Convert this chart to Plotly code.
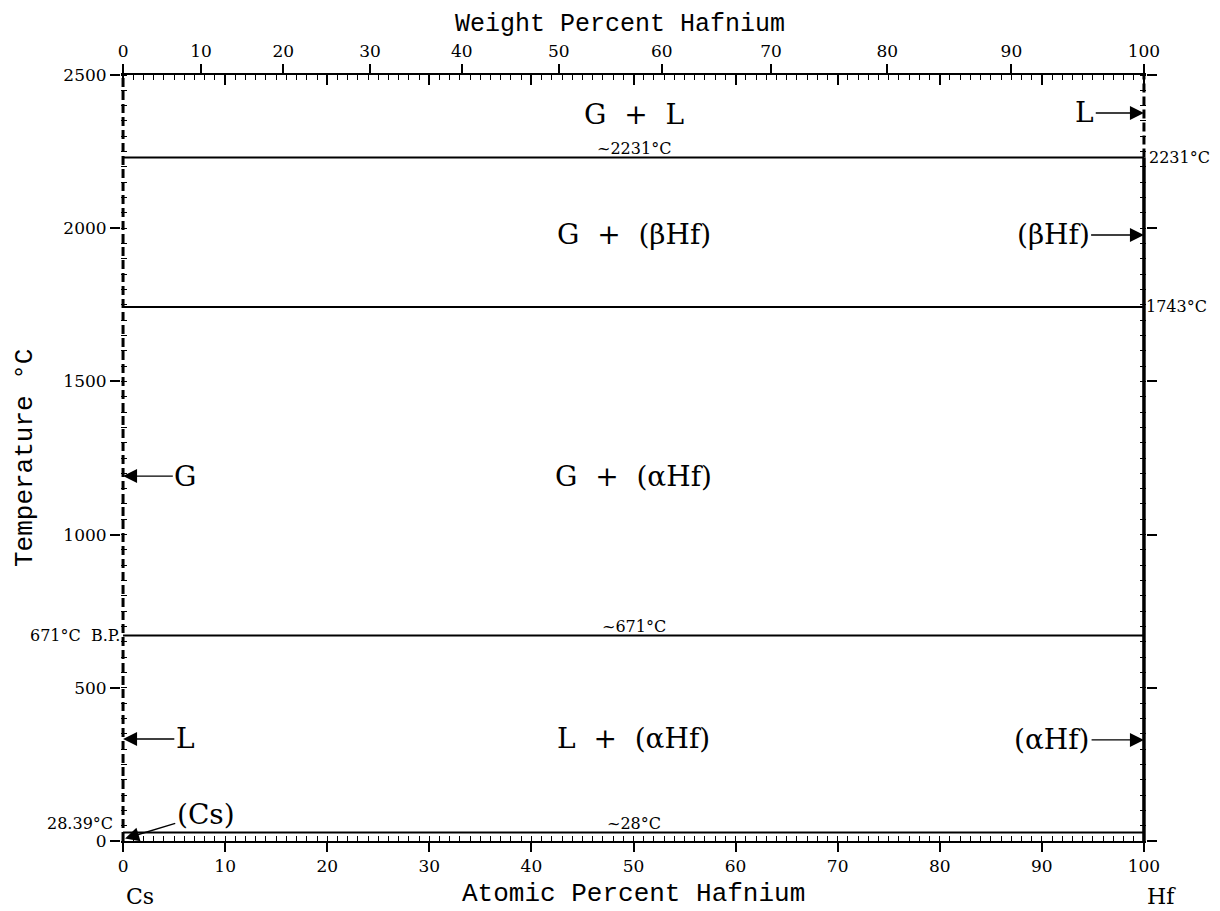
import plotly.graph_objects as go

# ---- data ----
M_HF = 178.49
M_CS = 132.905
wt_ticks = [0, 10, 20, 30, 40, 50, 60, 70, 80, 90, 100]
iso_temps = [2231, 1743, 671, 28]
iso_labels = ["~2231°C", "", "~671°C", "~28°C"]
region_text = ["G\u00a0 +\u00a0 L", "G\u00a0 +\u00a0 (βHf)", "G\u00a0 +\u00a0 (αHf)", "L\u00a0 +\u00a0 (αHf)"]
region_x = [50, 50, 50, 50]
region_T = [2372, 1981, 1191, 333]
# arrows: label, text x, text T, tip x, tip T
arrow_text = ["L", "(βHf)", "(αHf)", "G", "L", "(Cs)"]
arrow_tx = [94.2, 91.1, 91.0, 6.1, 6.1, 8.1]
arrow_tT = [2376, 1978, 330, 1191, 333, 88]
arrow_px = [100, 100, 100, 0, 0, 0.2]
arrow_pT = [2376, 1978, 330, 1191, 333, 8]


def wt_to_at(w):
    if w <= 0:
        return 0.0
    if w >= 100:
        return 100.0
    a = w / M_HF
    b = (100 - w) / M_CS
    return 100 * a / (a + b)


wt_pos = [wt_to_at(w) for w in wt_ticks]

SERIF = "DejaVu Serif"
MONO = "Liberation Mono"
TICKF = dict(family=SERIF, size=17, color="black")
SMALL = 16

fig = go.Figure()

# horizontal invariant lines
for T in iso_temps:
    fig.add_trace(go.Scatter(x=[0, 100], y=[T, T], mode="lines",
                             line=dict(color="black", width=2), showlegend=False, hoverinfo="skip"))

# left boundary (dashed) at pure Cs
fig.add_trace(go.Scatter(x=[0, 0], y=[0, 2500], mode="lines",
                         line=dict(color="black", width=3, dash="9px,4px"), showlegend=False, hoverinfo="skip"))
# right boundary: dashed above melting point, solid below
fig.add_trace(go.Scatter(x=[100, 100], y=[iso_temps[0], 2500], mode="lines",
                         line=dict(color="black", width=3, dash="9px,4px"), showlegend=False, hoverinfo="skip"))
fig.add_trace(go.Scatter(x=[100, 100], y=[0, iso_temps[0]], mode="lines",
                         line=dict(color="black", width=3.5), showlegend=False, hoverinfo="skip"))

# invisible traces to activate extra axes
fig.add_trace(go.Scatter(x=[0], y=[0], xaxis="x2", yaxis="y", mode="markers",
                         marker=dict(opacity=0), showlegend=False, hoverinfo="skip"))
fig.add_trace(go.Scatter(x=[0], y=[0], xaxis="x3", yaxis="y", mode="markers",
                         marker=dict(opacity=0), showlegend=False, hoverinfo="skip"))
fig.add_trace(go.Scatter(x=[0], y=[0], xaxis="x", yaxis="y2", mode="markers",
                         marker=dict(opacity=0), showlegend=False, hoverinfo="skip"))

XR = [-0.2, 100.2]
YR = [0, 2500]

# page body has an 8px margin, so the figure is 8px smaller than the window
fig.update_layout(
    width=1212, height=903,
    margin=dict(l=113, r=74, t=67, b=70),
    paper_bgcolor="white", plot_bgcolor="white",
    showlegend=False,
    xaxis=dict(range=XR, showgrid=False, zeroline=False, showline=True, linecolor="black", linewidth=2,
               tickmode="array", tickvals=list(range(0, 101, 10)), ticks="outside", ticklen=9,
               tickwidth=1.5, tickcolor="black", tickfont=TICKF,
               minor=dict(ticks="inside", dtick=1, tick0=0, ticklen=5, tickwidth=1, tickcolor="black")),
    xaxis2=dict(range=XR, overlaying="x", side="top", showgrid=False, zeroline=False, showline=True,
                linecolor="black", linewidth=2, tickmode="array", tickvals=wt_pos,
                ticktext=[str(w) for w in wt_ticks], ticks="outside", ticklen=9, tickwidth=1.5,
                tickcolor="black", tickfont=TICKF),
    xaxis3=dict(range=XR, overlaying="x", side="top", showgrid=False, zeroline=False, showline=False,
                tickmode="linear", tick0=0, dtick=10, ticks="inside", ticklen=10, tickwidth=1.5,
                tickcolor="black", showticklabels=False,
                minor=dict(ticks="inside", dtick=1, tick0=0, ticklen=5, tickwidth=1, tickcolor="black")),
    yaxis=dict(range=YR, showgrid=False, zeroline=False, showline=False,
               tickmode="linear", tick0=0, dtick=500, ticks="outside", ticklen=10, tickwidth=1.5,
               tickcolor="black", tickfont=TICKF,
               minor=dict(ticks="inside", dtick=50, tick0=0, ticklen=6, tickwidth=1, tickcolor="black")),
    yaxis2=dict(range=YR, overlaying="y", side="right", showgrid=False, zeroline=False, showline=False,
                tickmode="linear", tick0=0, dtick=500, ticks="outside", ticklen=10, tickwidth=1.5,
                tickcolor="black", showticklabels=False,
                minor=dict(ticks="inside", dtick=50, tick0=0, ticklen=6, tickwidth=1, tickcolor="black")),
)

ann = []
# isotherm labels
for T, lab in zip(iso_temps, iso_labels):
    if lab:
        ann.append(dict(x=50, y=T, xref="x", yref="y", text=lab, showarrow=False, yanchor="bottom",
                        yshift=-3, font=dict(family=SERIF, size=SMALL, color="black")))
# right side temperature labels
ann.append(dict(x=100, y=iso_temps[0], xref="x", yref="y", text="2231°C", showarrow=False,
                xanchor="left", xshift=3, font=dict(family=SERIF, size=SMALL, color="black")))
ann.append(dict(x=100, y=iso_temps[1], xref="x", yref="y", text="1743°C", showarrow=False,
                xanchor="left", xshift=0, font=dict(family=SERIF, size=SMALL, color="black")))
# left side labels
ann.append(dict(x=0, y=671, xref="x", yref="y", text="671°C\u00a0 B.P.", showarrow=False,
                xanchor="right", xshift=-1, font=dict(family=SERIF, size=SMALL, color="black")))
ann.append(dict(x=0, y=28.39, xref="x", yref="y", text="28.39°C", showarrow=False,
                xanchor="right", xshift=-8, yshift=9, font=dict(family=SERIF, size=SMALL, color="black")))
# region labels
for t, x, T in zip(region_text, region_x, region_T):
    ann.append(dict(x=x, y=T, xref="x", yref="y", text=t, showarrow=False,
                    font=dict(family=SERIF, size=28, color="black")))
# arrow labels
for t, tx, tT, px, pT in zip(arrow_text, arrow_tx, arrow_tT, arrow_px, arrow_pT):
    ann.append(dict(x=px, y=pT, xref="x", yref="y", ax=tx, ay=tT, axref="x", ayref="y",
                    text=t, showarrow=True, arrowhead=2, arrowsize=2, arrowwidth=1.4,
                    arrowcolor="black", standoff=0, startstandoff=0,
                    font=dict(family=SERIF, size=28, color="black")))
# axis titles
ann.append(dict(x=0.487, y=1, xref="paper", yref="paper", yanchor="middle", yshift=51,
                text="Weight Percent Hafnium", showarrow=False,
                font=dict(family=MONO, size=25, color="black")))
ann.append(dict(x=0.5, y=0, xref="paper", yref="paper", yanchor="middle", yshift=-53,
                text="Atomic Percent Hafnium", showarrow=False,
                font=dict(family=MONO, size=26, color="black")))
ann.append(dict(x=0, y=0.5, xref="paper", yref="paper", xanchor="center", xshift=-96, yshift=0,
                text="Temperature °C", textangle=-90, showarrow=False,
                font=dict(family=MONO, size=26, color="black")))
ann.append(dict(x=0, y=0, xref="x", yref="paper", yanchor="middle", yshift=-55, xshift=17,
                text="Cs", showarrow=False, font=dict(family=SERIF, size=22, color="black")))
ann.append(dict(x=100, y=0, xref="x", yref="paper", yanchor="middle", yshift=-55, xshift=18,
                text="Hf", showarrow=False, font=dict(family=SERIF, size=22, color="black")))

fig.update_layout(annotations=ann)
fig.write_html("out.html")
